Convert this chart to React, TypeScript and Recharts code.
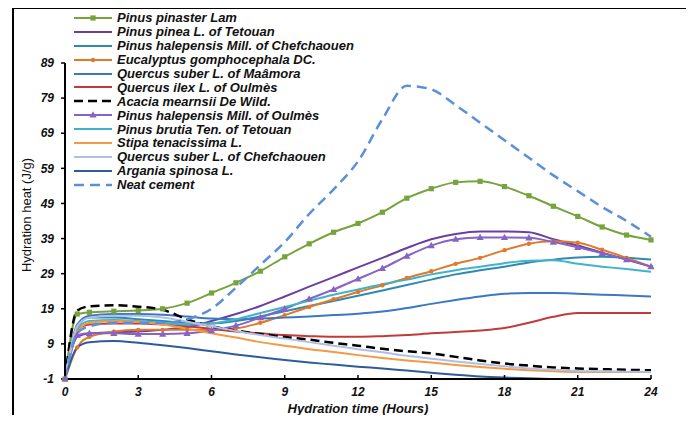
import React from "react";
import { LineChart, Line, XAxis, YAxis, Legend } from "recharts";

// hours after mixing
const hours = [0, 0.5, 1, 2, 3, 4, 5, 6, 7, 8, 9, 10, 11, 12, 13, 14, 15, 16, 17, 18, 19, 20, 21, 22, 23, 24];

// hydration heat (J/g)
const pinusPinaster = [-1, 17.5, 18, 18.3, 18.5, 19, 20.6, 23.5, 26.4, 29.7, 33.8, 37.5, 40.8, 43.3, 46.5, 50.5, 53.2, 55, 55.3, 53.8, 51.2, 48.2, 45.3, 42.3, 40, 38.6];
const pinusPinea = [-1, 11, 12, 12.3, 12.5, 13, 13.8, 15.5, 17.5, 19.8, 22.5, 25.3, 28, 30.8, 33.5, 36.3, 38.8, 40.3, 41, 41, 40.8, 38.8, 37, 35, 33, 31];
const halepensisChef = [-1, 14, 16.5, 16.5, 16, 15.5, 15, 14.8, 15.5, 16.8, 18.3, 19.8, 21.2, 22.7, 24.2, 25.8, 27.3, 28.8, 30, 31, 32.2, 33, 33.6, 33.8, 33.5, 33];
const eucalyptus = [-1, 8, 11, 12.5, 13, 13, 13, 13, 13.4, 15, 17.2, 19.5, 21.7, 23.8, 25.7, 27.8, 29.7, 31.8, 33.5, 35.7, 37.5, 38.2, 37.8, 35.8, 33.5, 31];
const suberMaamora = [-1, 14.5, 17, 17.5, 17.5, 17.3, 16.8, 16.2, 16, 16.2, 16.5, 16.8, 17.2, 17.6, 18.2, 19.2, 20.4, 21.5, 22.5, 23.3, 23.5, 23.5, 23.3, 23, 22.8, 22.5];
const ilexOulmes = [-1, 13, 14.5, 14.8, 14.8, 14.5, 14, 13.3, 12.5, 12, 11.5, 11.2, 11, 11, 11.2, 11.5, 12, 12.4, 12.8, 13.5, 15, 16.7, 17.8, 17.8, 17.8, 17.8];
const acacia = [-1, 18.5, 19.7, 20, 19.6, 18.7, 16, 14, 12.8, 11.8, 11, 10.2, 9.3, 8.5, 7.6, 6.9, 6.3, 5.3, 4.3, 3.4, 2.8, 2.3, 2, 1.8, 1.6, 1.5];
const halepensisOulmes = [-1, 11.5, 12, 12, 11.8, 11.8, 12, 12.8, 14.2, 16.5, 19, 21.8, 24.5, 27.5, 30.5, 34, 37, 38.8, 39.3, 39.3, 39.2, 38, 36.5, 34.8, 33, 31];
const brutia = [-1, 13.5, 15.5, 15.8, 15.5, 15, 14.5, 14.8, 16, 17.8, 19.5, 21.3, 23, 24.5, 26, 27.3, 28.8, 30, 31, 32, 32.7, 32.8, 31.8, 31, 30.3, 29.5];
const stipa = [-1, 12.5, 15, 15.5, 15.3, 14.5, 13.3, 12, 10.8, 9.5, 8.5, 7.5, 6.7, 5.8, 5, 4.3, 3.7, 3, 2.4, 1.9, 1.5, 1.2, 1, 1, 1, 1];
const suberChef = [-1, 14, 16.5, 17, 17, 16.5, 15.3, 14, 12.7, 11.5, 10.5, 9.5, 8.5, 7.5, 6.6, 5.6, 4.8, 4, 3.3, 2.6, 2, 1.6, 1.3, 1.2, 1.1, 1];
const argania = [-1, 8, 9.5, 9.8, 9.3, 8.6, 7.8, 6.9, 6, 5.2, 4.4, 3.7, 3.1, 2.5, 2, 1.4, 0.8, 0.2, -0.3, -0.6, -0.8, -1, -1, -1, -1, -1];
const neatCement = [-1, 12, 14, 15, 15, 15, 16, 19, 25, 31.5, 38, 46, 53, 61, 73, 82.5, 81.5, 77, 72, 67, 62, 57, 52.5, 48, 44, 39.5];

const xTicks = [0, 3, 6, 9, 12, 15, 18, 21, 24];
const yTicks = [-1, 9, 19, 29, 39, 49, 59, 69, 79, 89];

type Marker = "square" | "circle" | "triangle" | undefined;

const series: { key: string; name: string; values: number[]; color: string; dash?: string; width?: number; marker?: Marker }[] = [
  { key: "pinaster", name: "Pinus pinaster Lam", values: pinusPinaster, color: "#78A33C", marker: "square" },
  { key: "pinea", name: "Pinus pinea L. of Tetouan", values: pinusPinea, color: "#6B3FA0" },
  { key: "halepChef", name: "Pinus halepensis Mill. of Chefchaouen", values: halepensisChef, color: "#2E8AB0" },
  { key: "eucalyptus", name: "Eucalyptus gomphocephala DC.", values: eucalyptus, color: "#E07A2A", marker: "circle" },
  { key: "suberMaa", name: "Quercus suber L. of Maâmora", values: suberMaamora, color: "#3B78C4" },
  { key: "ilex", name: "Quercus ilex L. of Oulmès", values: ilexOulmes, color: "#C23B3B" },
  { key: "acacia", name: "Acacia mearnsii De Wild.", values: acacia, color: "#000000", dash: "9 5", width: 2.5 },
  { key: "halepOul", name: "Pinus halepensis Mill. of Oulmès", values: halepensisOulmes, color: "#8763C4", marker: "triangle" },
  { key: "brutia", name: "Pinus brutia Ten. of Tetouan", values: brutia, color: "#3FB4C9" },
  { key: "stipa", name: "Stipa tenacissima L.", values: stipa, color: "#F39A45" },
  { key: "suberChef", name: "Quercus suber L. of Chefchaouen", values: suberChef, color: "#B3BFE2" },
  { key: "argania", name: "Argania spinosa L.", values: argania, color: "#2E5C99" },
  { key: "cement", name: "Neat cement", values: neatCement, color: "#5B90D8", dash: "10 6", width: 2.5 },
];

const data = hours.map((h, i) => {
  const row: Record<string, number> = { t: h };
  series.forEach((s) => {
    row[s.key] = s.values[i];
  });
  return row;
});

const FONT = "'Liberation Sans', Arial, sans-serif";

function markerShape(kind: Marker, cx: number, cy: number, color: string, key?: string | number) {
  if (kind === "square") return <rect key={key} x={cx - 2.6} y={cy - 2.6} width={5.2} height={5.2} fill={color} />;
  if (kind === "circle") return <circle key={key} cx={cx} cy={cy} r={2.2} fill={color} />;
  if (kind === "triangle")
    return <path key={key} d={`M${cx},${cy - 3.8}L${cx + 3.6},${cy + 2.6}L${cx - 3.6},${cy + 2.6}Z`} fill={color} />;
  return null;
}

// keeps the legend in the order of the original figure (recharts sorts the payload)
function LegendList() {
  return (
    <div style={{ fontFamily: FONT, fontSize: 13, fontWeight: 700, fontStyle: "italic", color: "#111" }}>
      {series.map((s) => (
        <div key={s.key} style={{ display: "flex", alignItems: "center", height: 13.9, whiteSpace: "nowrap" }}>
          <svg width={42} height={10} style={{ marginRight: 1 }}>
            <line x1={0} y1={5} x2={38} y2={5} stroke={s.color} strokeWidth={s.width ?? 2.2} strokeDasharray={s.dash} />
            {markerShape(s.marker, 19, 5, s.color)}
          </svg>
          <span>{s.name}</span>
        </div>
      ))}
    </div>
  );
}

function XTitle(props: any) {
  const vb = props.viewBox || { x: 65, width: 586 };
  return (
    <text x={vb.x + vb.width / 2} y={413} textAnchor="middle" fontFamily={FONT} fontSize={13} fontWeight={700} fontStyle="italic" fill="#111">
      Hydration time (Hours)
    </text>
  );
}

function YTitle() {
  const cx = 31;
  const cy = 215;
  return (
    <text x={cx} y={cy} transform={`rotate(-90 ${cx} ${cy})`} textAnchor="middle" fontFamily={FONT} fontSize={13} fill="#111">
      Hydration heat (J/g)
    </text>
  );
}

export default function App() {
  return (
    <div style={{ position: "relative", width: 694, height: 423, margin: -8, overflow: "hidden", background: "#fff", fontFamily: FONT }}>
      <div style={{ position: "absolute", left: 12, top: 7, width: 675, height: 440, border: "2px solid #000" }} />
      <div style={{ position: "absolute", left: 0, top: 0 }}>
        <LineChart width={694} height={423} data={data} margin={{ top: 63, right: 43, bottom: 14, left: 0 }}>
          <XAxis
            dataKey="t"
            type="number"
            domain={[0, 24]}
            ticks={xTicks}
            height={30}
            axisLine={{ stroke: "#000", strokeWidth: 2 }}
            tickLine={{ stroke: "#000", strokeWidth: 1.5 }}
            tickSize={-4}
            tickMargin={12}
            tick={{ fontSize: 12, fontWeight: 700, fontStyle: "italic", fill: "#111", fontFamily: FONT }}
            label={<XTitle />}
          />
          <YAxis
            type="number"
            domain={[-1, 89]}
            ticks={yTicks}
            width={65}
            interval={0}
            axisLine={{ stroke: "#000", strokeWidth: 2 }}
            tickLine={{ stroke: "#000", strokeWidth: 1.5 }}
            tickSize={4}
            tickMargin={7}
            tick={{ fontSize: 12, fontWeight: 700, fontStyle: "italic", fill: "#111", fontFamily: FONT }}
            label={<YTitle />}
          />
          <Legend
            layout="vertical"
            align="center"
            verticalAlign="middle"
            content={<LegendList />}
            wrapperStyle={{ left: 74, top: 11, width: 330 }}
          />
          {series.map((s) => (
            <Line
              key={s.key}
              dataKey={s.key}
              name={s.name}
              type="monotone"
              stroke={s.color}
              strokeWidth={s.width ?? 2}
              strokeDasharray={s.dash}
              isAnimationActive={false}
              dot={
                s.marker
                  ? (p: any) => markerShape(s.marker, p.cx, p.cy, s.color, `${s.key}-${p.index}`)
                  : false
              }
              activeDot={false}
            />
          ))}
        </LineChart>
      </div>
    </div>
  );
}
